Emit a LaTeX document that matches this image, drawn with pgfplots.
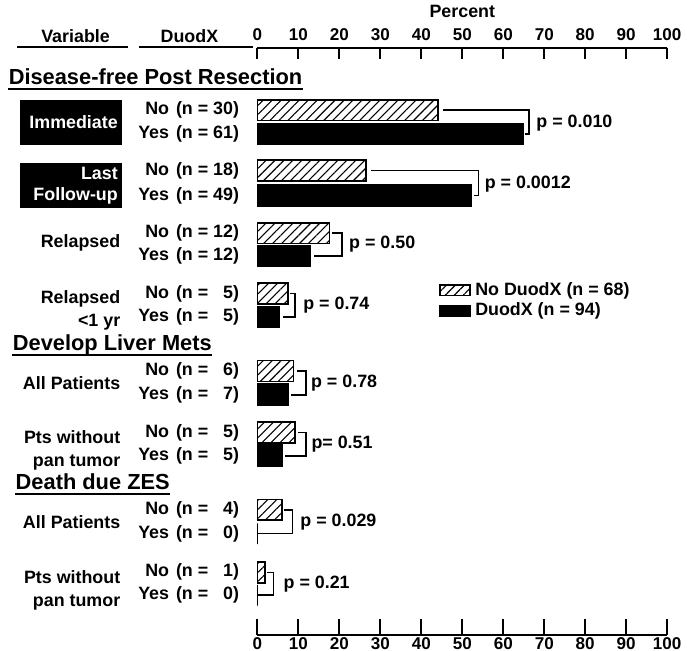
\documentclass[border=0pt]{standalone}
\usepackage{fontspec}
\setmainfont{Liberation Sans}[UprightFont={* Bold},BoldFont={* Bold}]
\usepackage{pgfplots}
\usepackage{pgfplotstable}
\pgfplotsset{compat=1.18}
\usetikzlibrary{patterns.meta}
\newcommand\f{\fontsize{9}{11.5}\selectfont}
\newcommand\ft{\fontsize{8.6}{10}\selectfont}
\newcommand\fb{\fontsize{9}{10.5}\selectfont}
\newcommand\fh{\fontsize{11}{13}\selectfont}
\newlength\wy \newlength\wn
\newcommand\ny[2]{\makebox[\wy][r]{#1}\hspace{3.5pt}(n =~\makebox[\wn][r]{#2})}
\newcommand\row[3]{\node[anchor=east, inner sep=0pt, font=\f] at (axis cs:-4.4,#1) {\ny{#2}{#3}};}
\pgfplotsset{boxlegend/.style={legend image code/.code={\draw[##1] (0pt,-2.6pt) rectangle (15pt,2.6pt);}}}

\pgfplotstableread{
y val
-111 44.1
-172 26.5
-235 17.6
-296 7.4
-374 8.8
-436 9.1
-514 5.9
-577 1.8
}\nodata
\pgfplotstableread{
y val
-135 64.9
-197 52.1
-258 12.8
-319.5 5.3
-398 7.4
-459.5 6.0
-538 0
-600 0
}\yesdata

\begin{document}
\settowidth{\wy}{\f Yes}\settowidth{\wn}{\f 30}
\begin{tikzpicture}
\begin{axis}[
  x=2.065pt, y=0.5pt,
  xmin=0, xmax=100, ymin=-640, ymax=-48,
  axis x line*=bottom, axis y line=none,
  axis line style={line width=1pt,-},
  xtick={0,10,...,100}, ytick=\empty,
  tick align=inside, major tick length=8pt,
  tick style={line width=1pt, black},
  xticklabel style={font=\ft, inner ysep=1pt},
  /pgf/number format/assume math mode=true,
  clip=false,
  boxlegend,
  legend style={at={(axis description cs:0.443,0.605)}, anchor=north west, draw=none, fill=none, font=\f, inner sep=0pt, row sep=0pt, nodes={inner ysep=1.2pt, inner xsep=2.2pt}},
  legend cell align=left,
]
\addplot[xbar, bar shift=0pt, bar width=21, draw=black, line width=0.9pt,
  pattern={Lines[angle=45,distance=3.2pt,line width=0.55pt]}]
  table[x=val,y=y] {\nodata};
\addlegendentry{No DuodX (n = 68)}
\addplot[xbar, bar shift=0pt, bar width=21, draw=black, fill=black, line width=0.9pt]
  table[x=val,y=y] {\yesdata};
\addlegendentry{DuodX (n = 94)}

% brackets
\addplot[forget plot, black, line width=0.75pt] coordinates {(45.3,-111) (66.3,-111) (66.3,-135) (65.4,-135)};
\addplot[forget plot, black, line width=0.75pt] coordinates {(27.7,-172) (54.0,-172) (54.0,-197) (52.8,-197)};
\addplot[forget plot, black, line width=0.75pt] coordinates {(18.3,-235) (20.6,-235) (20.6,-258) (13.8,-258)};
\addplot[forget plot, black, line width=0.75pt] coordinates {(8.0,-296) (9.2,-296) (9.2,-319.5) (6.2,-319.5)};
\addplot[forget plot, black, line width=0.75pt] coordinates {(9.6,-374) (11.9,-374) (11.9,-398) (8.2,-398)};
\addplot[forget plot, black, line width=0.75pt] coordinates {(9.9,-436) (11.9,-436) (11.9,-459.5) (6.8,-459.5)};
\addplot[forget plot, black, line width=0.75pt] coordinates {(6.5,-514) (8.5,-514) (8.5,-538) (0,-538)};
\addplot[forget plot, black, line width=0.75pt] coordinates {(2.4,-577) (3.9,-577) (3.9,-600) (0,-600)};

% p values
\node[anchor=west, inner sep=0pt, font=\f] at (axis cs:68.0,-124) {p = 0.010};
\node[anchor=west, inner sep=0pt, font=\f] at (axis cs:55.4,-185.5) {p = 0.0012};
\node[anchor=west, inner sep=0pt, font=\f] at (axis cs:22.3,-246.5) {p = 0.50};
\node[anchor=west, inner sep=0pt, font=\f] at (axis cs:11.1,-308) {p = 0.74};
\node[anchor=west, inner sep=0pt, font=\f] at (axis cs:13.0,-386) {p = 0.78};
\node[anchor=west, inner sep=0pt, font=\f] at (axis cs:13.1,-448) {p= 0.51};
\node[anchor=west, inner sep=0pt, font=\f] at (axis cs:10.4,-526) {p = 0.029};
\node[anchor=west, inner sep=0pt, font=\f] at (axis cs:6.3,-588.5) {p = 0.21};

% column headers
\node[anchor=base, inner sep=0pt, font=\f] at (axis cs:50,-18) {Percent};
\node[anchor=base, inner sep=0pt, font=\f] at (axis cs:-44.4,-43) {Variable};
\node[anchor=base, inner sep=0pt, font=\f] at (axis cs:-16.6,-43) {DuodX};
\draw[line width=1pt] (axis cs:-58.6,-47) -- (axis cs:-31.7,-47);
\draw[line width=1pt] (axis cs:-28.8,-47) -- (axis cs:-1.2,-47);

% section headers
\node[anchor=base west, inner sep=0pt, font=\fh] (h1) at (axis cs:-60.8,-85.5) {Disease-free Post Resection};
\draw[line width=1pt] ([yshift=-2.2pt]h1.base west) -- ([yshift=-2.2pt]h1.base east);
\node[anchor=base west, inner sep=0pt, font=\fh] (h2) at (axis cs:-59.8,-353) {Develop Liver Mets};
\draw[line width=1pt] ([yshift=-2.4pt]h2.base west) -- ([yshift=-2.4pt]h2.base east);
\node[anchor=base west, inner sep=0pt, font=\fh] (h3) at (axis cs:-59.1,-493) {Death due ZES};
\draw[line width=1pt] ([yshift=-2.6pt]h3.base west) -- ([yshift=-2.6pt]h3.base east);

% variable labels
\node[fill=black, text=white, font=\fb, minimum width=51.5pt, minimum height=22.5pt, inner xsep=2pt, inner ysep=0pt, text width=47.5pt, align=right] at (axis cs:-45.6,-123.5) {Immediate};
\node[fill=black, text=white, font=\fb, minimum width=51.5pt, minimum height=23pt, inner xsep=2pt, inner ysep=0pt, text width=47.5pt, align=right] at (axis cs:-45.6,-187) {Last\\Follow-up};
\node[anchor=east, inner sep=0pt, font=\f, align=right] at (axis cs:-33.4,-245) {Relapsed};
\node[anchor=east, inner sep=0pt, font=\f, align=right] at (axis cs:-33.4,-313) {Relapsed\\{<}1 yr};
\node[anchor=east, inner sep=0pt, font=\f, align=right] at (axis cs:-33.4,-386) {All Patients};
\node[anchor=east, inner sep=0pt, font=\f, align=right] at (axis cs:-33.4,-454) {Pts without\\pan tumor};
\node[anchor=east, inner sep=0pt, font=\f, align=right] at (axis cs:-33.4,-526) {All Patients};
\node[anchor=east, inner sep=0pt, font=\f, align=right] at (axis cs:-33.4,-595) {Pts without\\pan tumor};

% DuodX rows
\row{-111}{No}{30}
\row{-135}{Yes}{61}
\row{-172}{No}{18}
\row{-197}{Yes}{49}
\row{-235}{No}{12}
\row{-258}{Yes}{12}
\row{-296}{No}{5}
\row{-319.5}{Yes}{5}
\row{-374}{No}{6}
\row{-398}{Yes}{7}
\row{-436}{No}{5}
\row{-459.5}{Yes}{5}
\row{-514}{No}{4}
\row{-538}{Yes}{0}
\row{-577}{No}{1}
\row{-600}{Yes}{0}

\coordinate (bbSW) at (axis cs:-61.5,-656);
\coordinate (bbNE) at (axis cs:104.84,0);
\end{axis}
\begin{axis}[
  x=2.065pt, y=0.5pt,
  xmin=0, xmax=100, ymin=-640, ymax=-48,
  axis x line*=top, axis y line=none,
  axis line style={line width=1pt,-},
  xtick={0,10,...,100}, ytick=\empty,
  tick align=inside, major tick length=6pt,
  tick style={line width=1pt, black},
  xticklabel style={font=\ft},
  /pgf/number format/assume math mode=true,
]
\end{axis}
\pgfresetboundingbox
\useasboundingbox (bbSW) rectangle (bbNE);
\end{tikzpicture}
\end{document}
